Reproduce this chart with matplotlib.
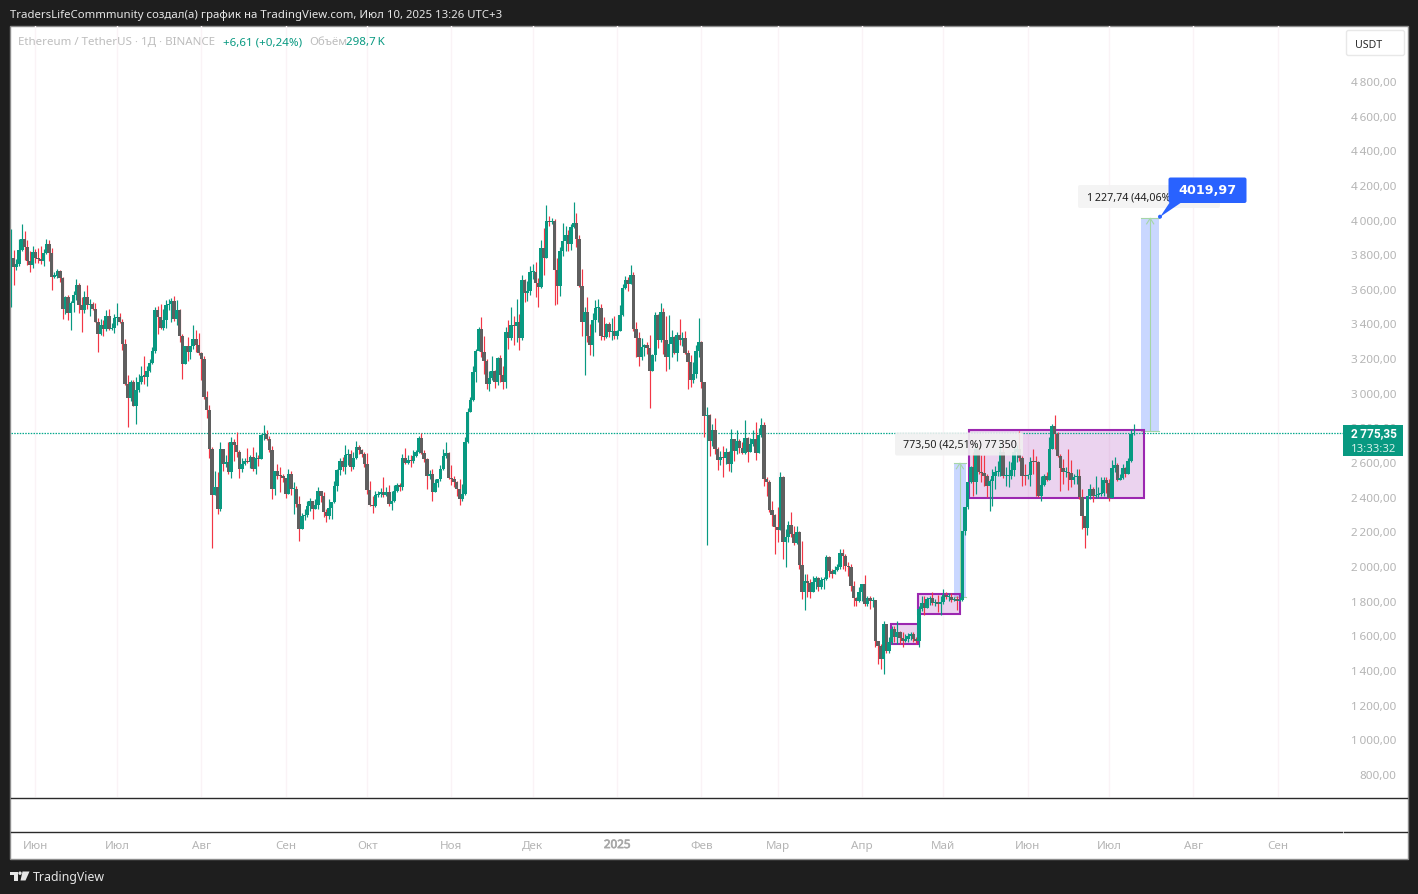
import matplotlib
matplotlib.use("Agg")
import matplotlib.pyplot as plt
import matplotlib.patheffects as pe
from matplotlib.patches import Rectangle, FancyBboxPatch, Polygon, Circle

W, H = 1418, 895
plt.rcParams['font.family'] = ['Noto Sans', 'DejaVu Sans']

close = [
 3779,3725,3744,3825,3888,3840,3758,3740,3811,3777, 3770,3758,3807,3860,3806,3671,3672,3702,3661,3484,
 3555,3461,3520,3565,3623,3504,3475,3555,3504,3513, 3484,3411,3340,3392,3369,3444,3369,3375,3430,3436,
 3411,3282,3052,2971,3061,2921,3017,3061,3096,3094, 3125,3173,3240,3480,3436,3375,3421,3504,3513,3530,
 3427,3479,3325,3167,3269,3238,3269,3311,3273,3228, 3196,2975,2898,2676,2411,2455,2330,2676,2590,2603,
 2545,2715,2699,2657,2561,2590,2605,2600,2628,2561, 2622,2618,2757,2760,2734,2672,2445,2549,2518,2517,
 2507,2416,2532,2445,2445,2359,2215,2291,2292,2349, 2378,2330,2353,2432,2407,2311,2286,2334,2368,2461,
 2555,2609,2574,2641,2647,2570,2622,2686,2667,2647, 2590,2441,2353,2345,2411,2413,2430,2411,2430,2359,
 2378,2432,2468,2459,2622,2595,2610,2605,2638,2657, 2738,2653,2615,2517,2532,2430,2480,2503,2561,2638,
 2653,2511,2503,2484,2445,2388,2416,2715,2888,2957, 3119,3240,3369,3238,3182,3048,3084,3125,3065,3202,
 3100,3061,3350,3317,3392,3385,3407,3317,3652,3577, 3586,3696,3700,3634,3609,3835,3777,3990,3987,3992,
 3706,3619,3821,3875,3908,3860,3956,3981,3885,3619, 3411,3465,3330,3273,3421,3488,3490,3325,3323,3398,
 3350,3359,3330,3357,3450,3606,3652,3629,3681,3369, 3317,3209,3263,3277,3261,3128,3219,3450,3302,3465,
 3302,3209,3282,3323,3230,3334,3302,3315,3228,3177, 3071,3109,3240,3292,3060,2864,2870,2724,2786,2676,
 2614,2628,2622,2657,2589,2734,2666,2724,2680,2653, 2737,2657,2705,2733,2653,2757,2814,2503,2487,2326,
 2295,2228,2210,2516,2141,2166,2237,2185,2131,2195, 2008,1852,1916,1900,1852,1906,1931,1877,1922,1925,
 2054,1974,1954,1977,1997,2075,2056,2002,1993,1887, 1816,1800,1848,1897,1781,1814,1800,1805,1569,1541,
 1464,1666,1512,1560,1637,1589,1618,1583,1570,1579, 1594,1606,1579,1570,1752,1787,1757,1810,1816,1787,
 1790,1783,1790,1833,1820,1823,1806,1810,1800,1805, 2200,2339,2483,2574,2487,2676,2545,2538,2518,2460,
 2493,2518,2541,2545,2657,2518,2520,2520,2557,2657, 2676,2622,2522,2518,2525,2603,2600,2598,2406,2468,
 2518,2498,2676,2807,2762,2633,2564,2541,2543,2537, 2497,2516,2518,2397,2287,2218,2402,2445,2403,2410,
 2413,2420,2497,2478,2391,2564,2583,2497,2507,2564, 2530,2608,2762,2767]
high = [
 3946,3825,3773,3885,3975,3931,3883,3821,3850,3831, 3835,3850,3831,3885,3879,3835,3700,3715,3710,3667,
 3560,3563,3530,3590,3654,3632,3550,3590,3623,3540, 3523,3519,3430,3427,3421,3475,3484,3400,3455,3519,
 3461,3427,3311,3103,3075,3071,3094,3110,3152,3215, 3157,3196,3263,3494,3500,3513,3484,3536,3540,3546,
 3561,3536,3484,3340,3269,3321,3272,3392,3363,3346, 3238,3215,3013,2930,2686,2549,2545,2715,2676,2640,
 2715,2744,2734,2772,2667,2622,2622,2680,2640,2686, 2657,2642,2760,2815,2786,2753,2695,2549,2590,2570,
 2532,2510,2561,2549,2484,2461,2407,2307,2330,2374, 2392,2378,2388,2455,2436,2426,2330,2388,2370,2490,
 2561,2622,2628,2699,2676,2667,2657,2720,2699,2676, 2657,2651,2490,2403,2436,2436,2451,2513,2459,2465,
 2436,2468,2480,2480,2647,2680,2640,2642,2670,2667, 2750,2767,2667,2623,2555,2561,2503,2505,2584,2676,
 2715,2661,2584,2518,2490,2503,2474,2744,2911,2975, 3157,3250,3380,3436,3330,3196,3128,3215,3130,3206,
 3219,3157,3382,3421,3494,3446,3542,3455,3680,3657, 3648,3730,3744,3754,3661,3883,3950,4085,4019,4008,
 4004,3777,3840,3981,3965,3940,3975,4100,4038,3908, 3715,3494,3555,3398,3461,3536,3542,3513,3440,3402,
 3411,3430,3446,3360,3507,3629,3673,3667,3738,3696, 3407,3350,3317,3280,3292,3336,3225,3465,3455,3519,
 3488,3446,3450,3365,3330,3350,3423,3350,3359,3248, 3219,3180,3273,3430,3300,3065,2916,2880,2820,2855,
 2685,2666,2695,2680,2666,2791,2734,2785,2734,2714, 2843,2743,2737,2788,2834,2795,2855,2830,2512,2497,
 2378,2300,2339,2545,2522,2214,2262,2310,2229,2229, 2205,2147,1955,1955,1925,1945,1945,1935,1935,1935,
 2066,2060,1983,2002,2010,2099,2099,2070,2022,2012, 1916,1820,1877,1897,1948,1830,1830,1820,1800,1570,
 1550,1685,1668,1590,1655,1655,1681,1627,1618,1608, 1612,1618,1618,1590,1771,1830,1830,1820,1830,1852,
 1810,1833,1830,1868,1848,1845,1845,1820,1830,1820, 2205,2339,2483,2580,2657,2705,2695,2641,2641,2532,
 2503,2560,2580,2609,2714,2714,2570,2609,2598,2685, 2700,2782,2637,2590,2530,2628,2676,2637,2609,2518,
 2530,2545,2743,2820,2872,2772,2647,2618,2570,2676, 2614,2530,2560,2560,2445,2291,2406,2474,2455,2518,
 2455,2512,2512,2512,2503,2612,2628,2597,2530,2590, 2570,2622,2790,2820]
low = [
 3498,3623,3706,3729,3821,3769,3738,3700,3723,3750, 3750,3745,3729,3800,3758,3594,3660,3660,3638,3427,
 3455,3421,3360,3465,3535,3461,3353,3461,3484,3446, 3475,3407,3238,3336,3325,3355,3363,3363,3346,3392,
 3400,3248,3046,2805,2950,2921,2820,3007,3050,3050, 3040,3120,3165,3230,3340,3369,3363,3375,3475,3411,
 3413,3392,3296,3080,3165,3182,3196,3253,3234,3220, 3075,2965,2853,2622,2105,2411,2300,2315,2551,2570,
 2532,2507,2609,2630,2509,2541,2584,2595,2565,2551, 2532,2580,2615,2730,2725,2661,2388,2411,2503,2430,
 2484,2393,2416,2411,2301,2340,2145,2215,2263,2282, 2315,2272,2330,2330,2372,2282,2253,2272,2272,2365,
 2436,2526,2551,2532,2584,2551,2561,2615,2647,2628, 2574,2417,2349,2307,2340,2397,2397,2397,2407,2349,
 2326,2372,2430,2436,2440,2590,2590,2574,2595,2630, 2650,2647,2603,2445,2500,2378,2426,2455,2490,2555,
 2625,2503,2465,2455,2407,2353,2378,2410,2710,2888, 2951,3065,3240,3205,3110,3023,3013,3071,3028,3046,
 3061,3023,3028,3254,3307,3277,3296,3248,3302,3523, 3532,3565,3657,3552,3498,3607,3677,3777,3965,3975,
 3509,3513,3561,3792,3821,3821,3827,3952,3844,3613, 3325,3100,3292,3219,3215,3353,3407,3302,3302,3315,
 3321,3302,3311,3311,3354,3446,3600,3590,3629,3354, 3205,3157,3192,3215,3225,2913,3123,3186,3257,3296,
 3225,3128,3138,3205,3221,3182,3273,3269,3225,3019, 3036,3055,3086,3205,3030,2747,2123,2634,2695,2647,
 2557,2584,2516,2590,2551,2545,2608,2647,2653,2647, 2647,2603,2657,2695,2614,2650,2743,2464,2407,2310,
 2230,2070,2141,2210,2041,1993,2137,2166,2124,2127, 1983,1810,1748,1820,1816,1848,1868,1858,1868,1870,
 1920,1935,1929,1954,1970,1983,1983,1973,1945,1858, 1768,1768,1790,1800,1772,1772,1752,1762,1531,1435,
 1406,1377,1500,1498,1550,1560,1550,1550,1531,1563, 1560,1575,1564,1550,1531,1743,1718,1756,1775,1775,
 1770,1733,1718,1783,1810,1800,1790,1796,1748,1800, 1800,2180,2330,2480,2407,2415,2530,2483,2464,2397,
 2320,2345,2445,2518,2518,2507,2460,2455,2503,2522, 2600,2608,2464,2468,2503,2460,2530,2406,2397,2378,
 2462,2490,2498,2675,2676,2628,2435,2474,2512,2440, 2455,2474,2475,2387,2214,2104,2181,2387,2368,2390,
 2391,2403,2407,2420,2378,2391,2540,2490,2495,2500, 2512,2530,2600,2757]
first_open = 3725

month_days = [9, 39, 70, 101, 131, 162, 192, 223, 254, 282, 313, 343, 374, 404, 435, 466]
month_labels = ['Июн', 'Июл', 'Авг', 'Сен', 'Окт', 'Ноя', 'Дек', '2025', 'Фев', 'Мар', 'Апр', 'Май', 'Июн', 'Июл', 'Авг', 'Сен']
price_ticks = [800, 1000, 1200, 1400, 1600, 1800, 2000, 2200, 2400, 2600, 2800, 3000, 3200, 3400, 3600, 3800, 4000, 4200, 4400, 4600, 4800]
price_labels = ['800,00', '1\u2009000,00', '1\u2009200,00', '1\u2009400,00', '1\u2009600,00', '1\u2009800,00', '2\u2009000,00',
                '2\u2009200,00', '2\u2009400,00', '2\u2009600,00', '2\u2009800,00', '3\u2009000,00', '3\u2009200,00', '3\u2009400,00',
                '3\u2009600,00', '3\u2009800,00', '4\u2009000,00', '4\u2009200,00', '4\u2009400,00', '4\u2009600,00', '4\u2009800,00']
# (x0, x1, y0, y1) consolidation boxes
boxes = [(323.8, 333.5, 1550, 1666), (333.6, 349.0, 1723, 1839), (352.6, 416.9, 2393, 2787)]
# (x0, x1, y0, y1) price-range measures
ranges = [(347.0, 351.2, 1820, 2593.5), (415.8, 422.4, 2779.2, 4007)]

GREEN, GREY, RED = '#089981', '#5f5f5f', '#f23645'
PURPLE = '#9c27b0'
TICK = '#b5b5b5'
BG = '#1e1e1e'
BOLD = ['Roboto', 'DejaVu Sans']

fig = plt.figure(figsize=(W / 100, H / 100), dpi=100, facecolor=BG)

# backdrop in pixel coordinates
bg = fig.add_axes([0, 0, 1, 1], zorder=0)
bg.set_xlim(0, W); bg.set_ylim(H, 0); bg.axis('off')
bg.add_patch(Rectangle((10, 27), 1398, 832.5, fc='white', ec='#8c8c8c', lw=1))

# main chart
ax = fig.add_axes([11 / W, 1 - 798 / H, 1333 / W, 771 / H], zorder=1)
ax.patch.set_alpha(0)
ax.set_xlim(0, 490.4)
ax.set_ylim(667, 5117)
for s in ax.spines.values():
    s.set_visible(False)
ax.set_xticks(month_days, month_labels)
ax.set_yticks(price_ticks, price_labels)
ax.yaxis.tick_right()
ax.tick_params(axis='both', length=0, labelsize=8.4, labelcolor=TICK)
ax.tick_params(axis='y', pad=37.5)
ax.tick_params(axis='x', pad=31)
for lab in ax.get_yticklabels():
    lab.set_ha('right')
for lab in ax.get_xticklabels():
    if lab.get_text() == '2025':
        lab.set_color('#a8a8a8')
        lab.set_path_effects([pe.withStroke(linewidth=0.5, foreground='#a8a8a8')])
ax.grid(axis='x', color='#faf3f6', lw=1)
ax.set_axisbelow(True)

for x0, x1, y0, y1 in ranges:
    ax.add_patch(Rectangle((x0, y0), x1 - x0, y1 - y0, fc='#2962ff', alpha=0.25, ec='none', zorder=1.5))
    mid = (x0 + x1) / 2
    ax.plot([mid, mid], [y0, y1], color='#a5d6a7', lw=0.8, zorder=1.6)
    ax.plot([x0, x1], [y1, y1], color='#a5d6a7', lw=0.8, zorder=1.6)
    ax.plot([x0, x1], [y0, y0], color='#a5d6a7', lw=0.8, zorder=1.6)
    ax.plot([mid - 1.3, mid, mid + 1.3], [y1 - 32, y1, y1 - 32], color='#a5d6a7', lw=0.8, zorder=1.6)

for x0, x1, y0, y1 in boxes:
    ax.add_patch(Rectangle((x0, y0), x1 - x0, y1 - y0, fc=PURPLE, alpha=0.2, ec='none', zorder=1.7))
    ax.add_patch(Rectangle((x0, y0), x1 - x0, y1 - y0, fc='none', ec=PURPLE, lw=1.5, zorder=1.9))

ax.axhline(close[-1], color='#06a88d', lw=0.9, ls=(0, (1.2, 1.0)), zorder=1.8)

opens = [first_open] + close[:-1]
for i, (o, h, l, c) in enumerate(zip(opens, high, low, close)):
    up = c >= o
    ax.vlines(i, l, h, color=GREEN if up else RED, lw=0.85, zorder=2)
    ax.bar(i, max(abs(c - o), 6), bottom=min(o, c), width=1.24, color=GREEN if up else GREY, lw=0, zorder=3)

# overlay in pixel coordinates
top = fig.add_axes([0, 0, 1, 1], zorder=2)
top.set_xlim(0, W); top.set_ylim(H, 0); top.axis('off')

top.plot([11, 1407], [798.8, 798.8], color='#2a2a2a', lw=1)
top.plot([11, 1342], [832.8, 832.8], color='#2a2a2a', lw=1)
top.plot([1344, 1407], [832.8, 832.8], color='#2a2a2a', lw=1)

top.text(10, 15, 'TradersLifeCommmunity создал(а) график на TradingView.com, Июл 10, 2025 13:26 UTC+3',
         color='#e6e6e6', fontsize=8.2, va='center')
top.text(18, 42.5, 'Ethereum / TetherUS · 1Д · BINANCE', color='#bdbdbd', fontsize=8.3, va='center')
top.text(223, 42.5, '+6,61 (+0,24%)', color=GREEN, fontsize=8.3, va='center')
top.text(309, 42.5, 'Объём', color='#bdbdbd', fontsize=8.3, va='center')
top.text(345.5, 42.5, '298,7\u2009K', color=GREEN, fontsize=8.3, va='center')

top.add_patch(FancyBboxPatch((1346.5, 31.5), 58, 25, boxstyle='round,pad=0,rounding_size=2', fc='white', ec='#e8e8e8', lw=1))
top.text(1369, 45, 'USDT', color='#2a2a2a', fontsize=7.6, ha='center', va='center')

# measure labels
top.add_patch(FancyBboxPatch((895, 433.5), 128, 23, boxstyle='round,pad=0,rounding_size=2', fc='#f1f1f1', ec='none', alpha=0.9, zorder=0.5))
top.text(903, 445, '773,50 (42,51%) 77\u2009350', color='#1e1e1e', fontsize=7.7, va='center')
top.add_patch(FancyBboxPatch((1078, 186), 142, 23, boxstyle='round,pad=0,rounding_size=2', fc='#f3f3f3', ec='none', alpha=0.9, zorder=0.5))
top.text(1087, 198, '1\u2009227,74 (44,06%)', color='#1e1e1e', fontsize=7.7, va='center')

# callout
top.add_patch(Polygon([[1170, 203], [1182, 203], [1160, 218]], fc='#2962ff', ec='none', zorder=3))
top.add_patch(Circle((1160, 217.7), 2, fc='#2962ff', ec='none', zorder=3))
top.add_patch(FancyBboxPatch((1168.5, 178.5), 78, 25.5, boxstyle='round,pad=0,rounding_size=2', fc='#2962ff', ec='none', zorder=3))
top.text(1207.5, 190.5, '4019,97', color='white', family='DejaVu Sans', fontsize=9.2, fontweight='bold', ha='center', va='center', zorder=4)

# last price tag
top.add_patch(Rectangle((1343, 426), 60, 31, fc=GREEN, ec='none', zorder=3))
top.text(1373.5, 434, '2\u2009775,35', color='white', family=BOLD, fontsize=8.6, fontweight='bold', ha='center', va='center', zorder=4)
top.text(1373.5, 449, '13:33:32', color='#d5efe9', fontsize=8.2, ha='center', va='center', zorder=4)

# footer logo
top.add_patch(Polygon([[10, 872.5], [17.5, 872.5], [17.5, 881.5], [14, 881.5], [14, 875.5], [10, 875.5]], fc='#e6e6e6', ec='none'))
top.add_patch(Circle((20, 874.2), 1.7, fc='#e6e6e6', ec='none'))
top.add_patch(Polygon([[22.5, 872.5], [29.5, 872.5], [25.5, 881.5], [20.5, 881.5]], fc='#e6e6e6', ec='none'))
top.text(33, 878, 'TradingView', color='#e6e6e6', fontsize=8.85, va='center')

fig.savefig('out.png', dpi=100, facecolor=BG)
